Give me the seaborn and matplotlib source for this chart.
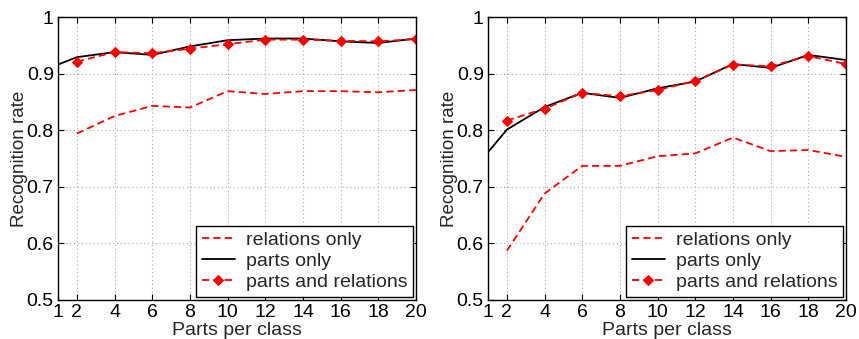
import numpy as np
import pandas as pd
import matplotlib
matplotlib.use("Agg")
import matplotlib.pyplot as plt
import seaborn as sns

sns.set_theme(style="ticks")
plt.rcParams['font.family'] = ['Liberation Sans', 'DejaVu Sans']

x_parts = [1, 2, 4, 6, 8, 10, 12, 14, 16, 18, 20]
x_other = [2, 4, 6, 8, 10, 12, 14, 16, 18, 20]

left_parts_only = [0.916, 0.929, 0.938, 0.933, 0.948, 0.959, 0.962, 0.962, 0.957, 0.954, 0.962]
left_parts_rel = [0.921, 0.938, 0.936, 0.944, 0.952, 0.960, 0.960, 0.958, 0.957, 0.961]
left_rel_only = [0.794, 0.825, 0.843, 0.840, 0.869, 0.864, 0.869, 0.869, 0.867, 0.871]

right_parts_only = [0.761, 0.801, 0.841, 0.866, 0.857, 0.874, 0.886, 0.917, 0.910, 0.933, 0.924]
right_parts_rel = [0.817, 0.838, 0.866, 0.860, 0.871, 0.887, 0.916, 0.913, 0.931, 0.917]
right_rel_only = [0.587, 0.688, 0.737, 0.737, 0.754, 0.759, 0.787, 0.763, 0.765, 0.753]

xticks = [1, 2, 4, 6, 8, 10, 12, 14, 16, 18, 20]
yticks = [0.5, 0.6, 0.7, 0.8, 0.9, 1.0]
ytick_labels = ["0.5", "0.6", "0.7", "0.8", "0.9", "1"]

fig = plt.figure(figsize=(8.59, 3.39), dpi=100)
axes = [fig.add_axes([58/859, 1-300/339, (416-58)/859, (300-17)/339]),
        fig.add_axes([488/859, 1-300/339, (846-488)/859, (300-17)/339])]

panels = [(left_rel_only, left_parts_only, left_parts_rel),
          (right_rel_only, right_parts_only, right_parts_rel)]

DASH = (4.0, 2.3)
for ax, (rel, parts, both) in zip(axes, panels):
    ax.set_facecolor("white")
    sns.lineplot(x=x_other, y=rel, ax=ax, color="#ff0000", lw=1.3,
                 label="relations only")
    ax.lines[-1].set_dashes(DASH)
    sns.lineplot(x=x_parts, y=parts, ax=ax, color="black", lw=1.3,
                 label="parts only")
    sns.lineplot(x=x_other, y=both, ax=ax, color="#ff0000", lw=1.3,
                 marker="D", markersize=5.5, markeredgecolor="#ff0000",
                 label="parts and relations")
    ax.lines[-1].set_dashes(DASH)
    ax.set_xlim(1, 20)
    ax.set_ylim(0.5, 1.0)
    ax.set_xticks(xticks)
    ax.set_xticklabels([str(t) for t in xticks])
    ax.set_yticks(yticks)
    ax.set_yticklabels(ytick_labels)
    ax.grid(True, color="#aaaaaa", linestyle=(0, (1, 2.5)), linewidth=0.8)
    ax.tick_params(direction="in", top=True, right=True, labelsize=14,
                   length=4, width=0.8, pad=3, colors="black")
    for s in ax.spines.values():
        s.set_visible(True)
        s.set_color("black")
        s.set_linewidth(1.0)
    ax.set_xlabel("Parts per class", fontsize=14, labelpad=0.5)
    ax.set_ylabel("Recognition rate", fontsize=13.5, labelpad=-1)
    leg = ax.legend(loc="lower right", fontsize=14, frameon=True, fancybox=False,
                    borderpad=0.3, labelspacing=0.18, handlelength=1.7,
                    handletextpad=0.55, borderaxespad=0.15)
    leg.get_frame().set_edgecolor("black")
    leg.get_frame().set_linewidth(1.0)
    leg.get_frame().set_alpha(1)

fig.savefig("out.png", dpi=100)
